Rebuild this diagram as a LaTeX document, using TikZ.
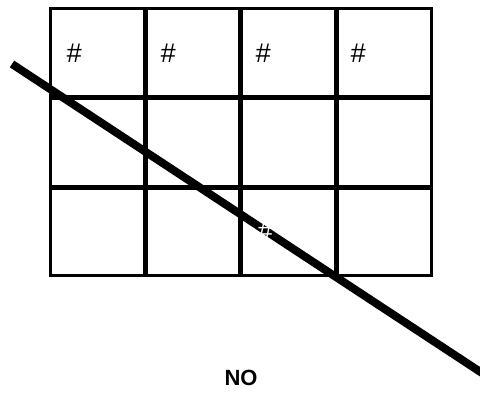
\documentclass[tikz,border=0pt]{standalone}
\usepackage{fontspec}
\setmainfont{Liberation Sans}
\begin{document}
\begin{tikzpicture}[x=1pt,y=-1pt,
  gridline/.style={line width=5pt},
  frameline/.style={line width=3pt},
  hashlabel/.style={font=\itshape\fontsize{27}{29}\selectfont,inner sep=0pt}
]
  \useasboundingbox (0,0) rectangle (480,392);
  % cells
  \foreach \x in {145,240.5,336}
    \draw[gridline] (\x,8.5) -- (\x,275.5);
  \foreach \y in {97.5,187}
    \draw[gridline] (50.5,\y) -- (431.5,\y);
  \draw[frameline] (50.5,8.5) rectangle (431.5,275.5);
  \foreach \x/\n in {74/a,168/b,263/c,358/d}
    \node[hashlabel] (hash\n) at (\x,53) {\#};
  % slash
  \coordinate (slashstart) at (12,64);
  \coordinate (slashend) at (482,373);
  \draw[line width=8pt] (slashstart) -- (slashend);
  \node[hashlabel,text=white] (hashw) at (265,231) {\#};
  \node[font=\bfseries\fontsize{22}{24}\selectfont] (answer) at (241,378) {NO};
\end{tikzpicture}
\end{document}
